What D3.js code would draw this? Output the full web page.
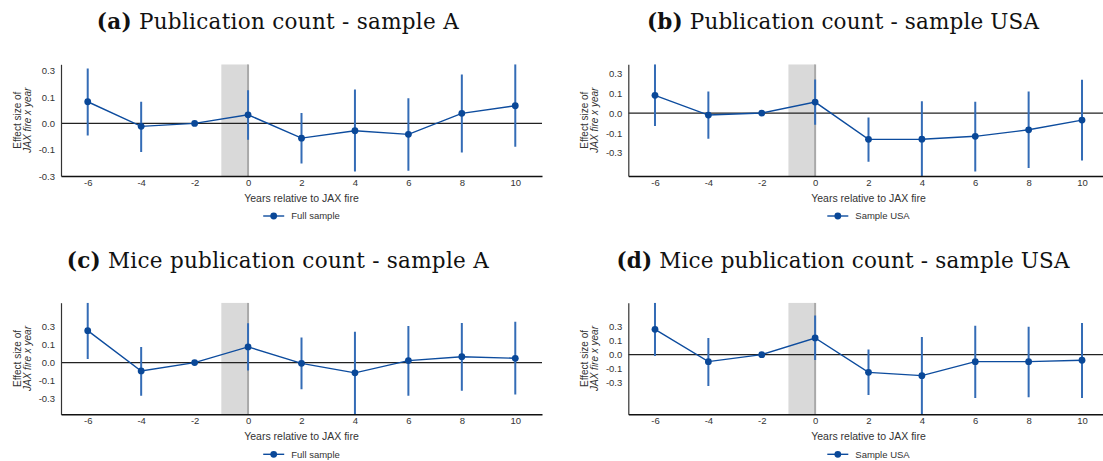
<!DOCTYPE html>
<html>
<head>
<meta charset="utf-8">
<script src="https://cdn.jsdelivr.net/npm/d3@7"></script>
<style>
  html, body { margin: 0; padding: 0; background: #fff; }
  svg { display: block; }
</style>
</head>
<body>
<svg id="chart" width="1103" height="461"></svg>
<script>
// Event-study estimates: years relative to the JAX fire
const years = [-6, -4, -2, 0, 2, 4, 6, 8, 10];

// (a) Publication count - sample A
const pubAEst = [0.103, -0.014, 0, 0.041, -0.070, -0.035, -0.052, 0.048, 0.084];
const pubALo  = [-0.057, -0.136, 0, -0.078, -0.191, -0.229, -0.225, -0.138, -0.111];
const pubAHi  = [0.261, 0.103, 0, 0.158, 0.049, 0.161, 0.120, 0.233, 0.281];

// (b) Publication count - sample USA
const pubUEst = [0.111, -0.0125, 0, 0.069, -0.165, -0.164, -0.146, -0.105, -0.044];
const pubULo  = [-0.081, -0.161, 0, -0.074, -0.306, -0.395, -0.366, -0.345, -0.298];
const pubUHi  = [0.306, 0.136, 0, 0.211, -0.028, 0.074, 0.071, 0.136, 0.209];

// (c) Mice publication count - sample A
const miceAEst = [0.222, -0.058, 0, 0.109, -0.005, -0.071, 0.014, 0.041, 0.030];
const miceALo  = [0.025, -0.231, 0, -0.055, -0.185, -0.359, -0.231, -0.196, -0.222];
const miceAHi  = [0.416, 0.109, 0, 0.273, 0.174, 0.215, 0.255, 0.275, 0.283];

// (d) Mice publication count - sample USA
const miceUEst = [0.226, -0.0625, 0, 0.149, -0.158, -0.1875, -0.0625, -0.0625, -0.05];
const miceULo  = [-0.012, -0.280, 0, -0.048, -0.360, -0.533, -0.388, -0.381, -0.388];
const miceUHi  = [0.464, 0.149, 0, 0.349, 0.045, 0.158, 0.259, 0.250, 0.283];

// Axis ticks and labels
const xTicks = [-6, -4, -2, 0, 2, 4, 6, 8, 10];
const yTickValues = [-0.25, -0.125, 0, 0.125, 0.25];
const yTickLabels = ["-0.3", "-0.1", "0.0", "0.1", "0.3"];

const panelTags = ["(a)", "(b)", "(c)", "(d)"];
const panelTitles = ["Publication count - sample A", "Publication count - sample USA",
                     "Mice publication count - sample A", "Mice publication count - sample USA"];
const legendNames = ["Full sample", "Sample USA", "Full sample", "Sample USA"];
const yDomains = [[-0.25, 0.281], [-0.395, 0.306], [-0.359, 0.416], [-0.533, 0.464]];

const xLabel = "Years relative to JAX fire";
const yLabel1 = "Effect size of";
const yLabel2 = "JAX fire x year";

const series = [
  { est: pubAEst, lo: pubALo, hi: pubAHi },
  { est: pubUEst, lo: pubULo, hi: pubUHi },
  { est: miceAEst, lo: miceALo, hi: miceAHi },
  { est: miceUEst, lo: miceULo, hi: miceUHi }
];

// Layout
const colX = [[61, 542], [628.3, 1108.7]];
const rowY = [[64.3, 176], [302.7, 414.3]];
const titleCenter = [277.7, 843];
const titleBase = [29.3, 268];
const titleWidths = [362, 392, 422, 453];

const svg = d3.select("#chart");
const sans = "'Liberation Sans', Arial, sans-serif";
const serif = "'DejaVu Serif', serif";

const lineBlue = "#0d4c9e";
const ciBlue = "#346cb6";
const dotBlue = "#0a4898";

series.forEach((s, i) => {
  const col = i % 2, row = Math.floor(i / 2);
  const [x0, x1] = colX[col];
  const [yTop, yBot] = rowY[row];

  const x = d3.scaleLinear().domain([-7, 11]).range([x0, x1]);
  const y = d3.scaleLinear().domain(yDomains[i]).range([yBot, yTop]);

  const g = svg.append("g");

  // Title
  const t = g.append("text")
    .attr("x", titleCenter[col]).attr("y", titleBase[row])
    .attr("text-anchor", "middle")
    .attr("textLength", titleWidths[i]).attr("lengthAdjust", "spacing")
    .style("font-family", serif).style("font-size", "21.5px").style("fill", "#111");
  t.append("tspan").style("font-weight", "bold").text(panelTags[i]);
  t.append("tspan").text(" " + panelTitles[i]);

  const clipId = "clip" + i;
  g.append("clipPath").attr("id", clipId)
    .append("rect").attr("x", x0).attr("y", yTop).attr("width", x1 - x0).attr("height", yBot - yTop);

  const plot = g.append("g").attr("clip-path", `url(#${clipId})`);

  // Shaded fire year window
  plot.append("rect")
    .attr("x", x(-1)).attr("y", yTop)
    .attr("width", x(0) - x(-1)).attr("height", yBot - yTop)
    .attr("fill", "#d9d9d9");
  plot.append("line")
    .attr("x1", x(0)).attr("x2", x(0)).attr("y1", yTop).attr("y2", yBot)
    .attr("stroke", "#a9a9a9").attr("stroke-width", 2);

  // Zero reference line
  plot.append("line")
    .attr("x1", x0).attr("x2", x1).attr("y1", y(0)).attr("y2", y(0))
    .attr("stroke", "#222").attr("stroke-width", 1.3);

  const pts = years.map((yr, k) => ({ yr, est: s.est[k], lo: s.lo[k], hi: s.hi[k] }));

  // Confidence intervals
  plot.selectAll("line.ci").data(pts.filter(d => d.hi !== d.lo)).join("line")
    .attr("class", "ci")
    .attr("x1", d => x(d.yr)).attr("x2", d => x(d.yr))
    .attr("y1", d => y(d.lo)).attr("y2", d => y(d.hi))
    .attr("stroke", ciBlue).attr("stroke-width", 2);

  // Point estimates
  plot.append("path").datum(pts)
    .attr("fill", "none").attr("stroke", lineBlue).attr("stroke-width", 1.4)
    .attr("d", d3.line().x(d => x(d.yr)).y(d => y(d.est)));
  plot.selectAll("circle").data(pts).join("circle")
    .attr("cx", d => x(d.yr)).attr("cy", d => y(d.est)).attr("r", 3.4)
    .attr("fill", dotBlue);

  // Axes
  const yAxis = g.append("g").attr("transform", `translate(${x0},0)`)
    .call(d3.axisLeft(y).tickValues(yTickValues)
      .tickFormat((d, k) => yTickLabels[k]).tickSize(0).tickPadding(6));
  yAxis.select(".domain").attr("stroke", "#333").attr("stroke-width", 1.2);
  yAxis.selectAll("text").style("font-family", sans).style("font-size", "9.5px").attr("fill", "#333");

  const xAxis = g.append("g").attr("transform", `translate(0,${yBot})`)
    .call(d3.axisBottom(x).tickValues(xTicks).tickFormat(d => String(d)).tickSize(0).tickPadding(3));
  xAxis.select(".domain").attr("stroke", "#111").attr("stroke-width", 1.6);
  xAxis.selectAll("text").style("font-family", sans).style("font-size", "9.5px").attr("fill", "#333");

  const cx = (x0 + x1) / 2;
  g.append("text")
    .attr("x", cx).attr("y", yBot + 25.5)
    .attr("text-anchor", "middle")
    .style("font-family", sans).style("font-size", "10.5px").attr("fill", "#333")
    .text(xLabel);

  // Rotated y-axis title
  const cy = (yTop + yBot) / 2;
  g.append("text")
    .attr("transform", `translate(${x0 - 40.5},${cy}) rotate(-90)`)
    .attr("text-anchor", "middle")
    .style("font-family", sans).style("font-size", "10px").attr("fill", "#333")
    .text(yLabel1);
  g.append("text")
    .attr("transform", `translate(${x0 - 30.5},${cy}) rotate(-90)`)
    .attr("text-anchor", "middle")
    .style("font-family", sans).style("font-size", "10px").style("font-style", "italic").attr("fill", "#333")
    .text(yLabel2);

  // Legend
  const lg = g.append("g");
  const lt = lg.append("text")
    .attr("y", yBot + 43.3)
    .style("font-family", sans).style("font-size", "9.5px").attr("fill", "#333")
    .text(legendNames[i]);
  const tw = lt.node().getComputedTextLength();
  const total = 28 + tw;
  const ls = cx - total / 2;
  const ly = yBot + 40;
  lt.attr("x", ls + 28);
  lg.append("line").attr("x1", ls).attr("x2", ls + 21).attr("y1", ly).attr("y2", ly)
    .attr("stroke", lineBlue).attr("stroke-width", 1.4);
  lg.append("circle").attr("cx", ls + 10.5).attr("cy", ly).attr("r", 3.4).attr("fill", dotBlue);
});
</script>
</body>
</html>
